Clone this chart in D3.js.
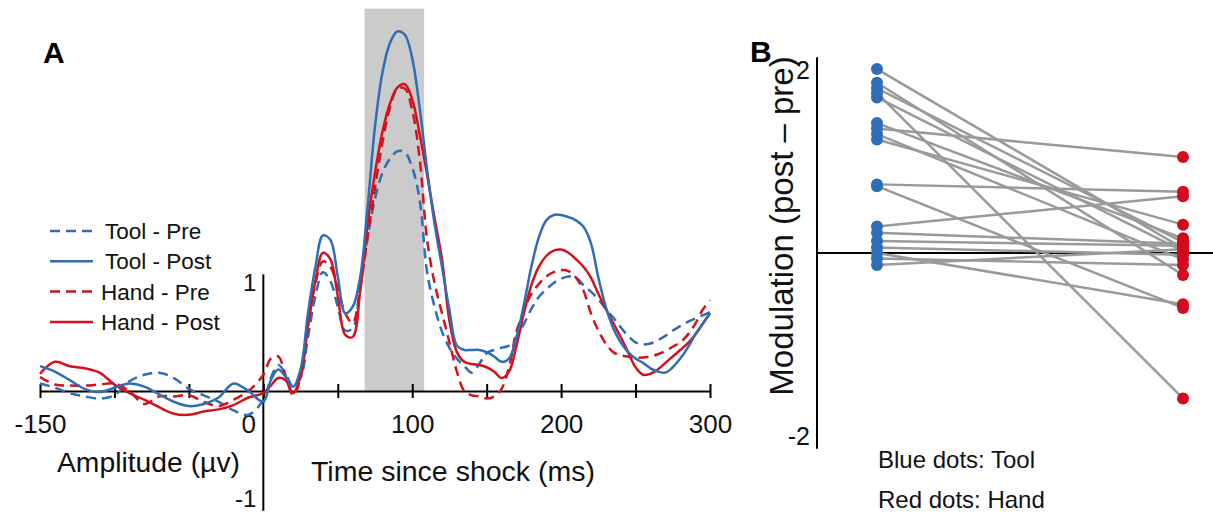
<!DOCTYPE html>
<html>
<head>
<meta charset="utf-8">
<script src="https://cdn.jsdelivr.net/npm/d3@7"></script>
<style>
  body { margin: 0; background: #fff; }
  svg { font-family: "Liberation Sans", Arial, sans-serif; }
</style>
</head>
<body>
<div id="chart"></div>
<script>
// ---- panel A data: ERP amplitude (µV) over time since shock (ms) ----
const times = [
  -150, -140, -130, -120, -110, -100, -90, -80, -70, -60, -50, -40, -30, -20, -10, 0,
  5, 10, 15, 20, 25, 30, 35, 40, 45, 50,
  55, 60, 65, 70, 75, 80, 85, 90, 95, 100,
  105, 110, 115, 120, 125, 130, 135, 140, 145, 150,
  155, 160, 165, 170, 175, 180, 185, 190, 195, 200,
  205, 210, 215, 220, 225, 230, 235, 240, 245, 250,
  255, 260, 265, 270, 275, 280, 285, 290, 295, 300
];

const toolPre = [
  0.07, 0.03, -0.02, -0.05, -0.07, -0.04, 0.09, 0.15, 0.17, 0.12, 0.02, -0.04, -0.10, -0.18, -0.22, -0.08,
  0.12, 0.24, 0.16, 0.04, 0.12, 0.50, 0.88, 1.10, 1.02, 0.78,
  0.56, 0.58, 0.95, 1.42, 1.78, 2.02, 2.15, 2.22, 2.21, 2.07,
  1.77, 1.10, 0.78, 0.55, 0.40, 0.30, 0.23, 0.17, 0.25, 0.35,
  0.38, 0.40, 0.42, 0.50, 0.62, 0.76, 0.87, 0.94, 1.00, 1.04,
  1.06, 1.05, 0.98, 0.92, 0.85, 0.76, 0.68, 0.59, 0.51, 0.45,
  0.43, 0.44, 0.47, 0.51, 0.56, 0.60, 0.64, 0.67, 0.70, 0.73
];

const toolPost = [
  0.23, 0.18, 0.10, 0.02, -0.01, 0.03, 0.07, 0.04, -0.03, -0.10, -0.14, -0.12, -0.06, 0.07, 0.00, -0.10,
  0.10, 0.20, 0.13, 0.04, 0.20, 0.72, 1.15, 1.44, 1.40, 1.06,
  0.72, 0.78, 1.05, 1.70, 2.45, 2.95, 3.22, 3.33, 3.30, 3.08,
  2.62, 2.05, 1.55, 1.15, 0.75, 0.42, 0.38, 0.38, 0.38, 0.36,
  0.32, 0.27, 0.30, 0.50, 0.80, 1.15, 1.42, 1.58, 1.63, 1.63,
  1.61, 1.58, 1.52, 1.37, 1.05, 0.78, 0.58, 0.45, 0.36, 0.30,
  0.26, 0.21, 0.18, 0.17, 0.22, 0.30, 0.40, 0.52, 0.62, 0.72
];

const handPre = [
  0.13, 0.06, 0.05, 0.05, 0.06, 0.07, 0.00, -0.12, -0.05, -0.05, -0.04, -0.10, -0.14, -0.08, 0.00, 0.15,
  0.30, 0.32, 0.14, -0.04, 0.12, 0.62, 1.00, 1.20, 1.15, 0.95,
  0.72, 0.63, 0.95, 1.42, 1.88, 2.30, 2.62, 2.80, 2.80, 2.60,
  2.15, 1.40, 1.00, 0.72, 0.45, 0.18, 0.00, -0.04, -0.05, -0.07,
  -0.05, 0.02, 0.22, 0.55, 0.74, 0.90, 0.99, 1.06, 1.10, 1.12,
  1.11, 1.05, 0.93, 0.72, 0.56, 0.44, 0.36, 0.33, 0.32, 0.31,
  0.31, 0.32, 0.34, 0.37, 0.41, 0.45, 0.52, 0.62, 0.75, 0.84
];

const handPost = [
  0.16, 0.27, 0.23, 0.21, 0.17, 0.06, -0.02, -0.08, -0.15, -0.21, -0.22, -0.19, -0.17, -0.13, -0.06, -0.02,
  0.05, 0.12, 0.10, -0.02, 0.15, 0.60, 1.02, 1.28, 1.22, 0.88,
  0.52, 0.50, 0.92, 1.55, 2.02, 2.40, 2.66, 2.81, 2.84, 2.70,
  2.38, 2.00, 1.60, 1.22, 0.65, 0.36, 0.27, 0.25, 0.24, 0.22,
  0.18, 0.12, 0.18, 0.42, 0.72, 0.98, 1.15, 1.25, 1.30, 1.31,
  1.28, 1.22, 1.15, 1.05, 0.90, 0.76, 0.63, 0.50, 0.36, 0.22,
  0.15, 0.16, 0.20, 0.26, 0.32, 0.38, 0.44, 0.52, 0.62, 0.72
];

const seriesNames = ["Tool - Pre", "Tool - Post", "Hand - Pre", "Hand - Post"];
const shadeWindow = [68, 108];   // ms
const shadeTop = 3.54;           // µV
const xTicksA = [-150, -100, -50, 0, 50, 100, 150, 200, 250, 300];
const xLabelsA = [-150, 0, 100, 200, 300];
const yTicksA = [-1, 1];

// ---- panel B data: modulation (post - pre) per subject ----
const groups = ["Tool", "Hand"];
const toolMod = [2.01, 1.86, 1.80, 1.75, 1.70, 1.42, 1.36, 1.30, 1.24, 0.75, 0.73, 0.29, 0.22, 0.13, 0.06, 0.00, -0.06, -0.13];
const handMod = [0.05, -0.24, 0.12, -1.59, 0.02, 0.16, 1.05, -0.07, 0.31, 0.67, -0.60, 0.62, 0.10, 0.08, -0.02, -0.56, -0.13, 0.04];
const yTicksB = [-2, 2];

const blue = "#2f6db4";
const red = "#d5111d";
const font = "'Liberation Sans', Arial, sans-serif";

const svg = d3.select("#chart").append("svg")
  .attr("width", 1213)
  .attr("height", 513);

// ================= panel A =================
const x = d3.scaleLinear().domain([-150, 300]).range([40, 710]);
const y = d3.scaleLinear().domain([-1, 1]).range([499, 283]);

// shaded window
svg.append("rect")
  .attr("x", x(shadeWindow[0]))
  .attr("y", y(shadeTop))
  .attr("width", x(shadeWindow[1]) - x(shadeWindow[0]))
  .attr("height", y(0) - y(shadeTop))
  .attr("fill", "#cbcbcb");

// x axis (ticks cross the line)
const gx = svg.append("g")
  .attr("transform", `translate(0,${y(0)})`)
  .attr("font-family", font)
  .call(d3.axisBottom(x)
    .tickValues(xTicksA)
    .tickSize(7)
    .tickSizeOuter(0)
    .tickFormat(d => xLabelsA.includes(d) ? String(d) : ""));
gx.select(".domain").attr("stroke", "#000").attr("stroke-width", 2);
gx.selectAll(".tick line").attr("y1", -7).attr("stroke-width", 2);
gx.selectAll(".tick text")
  .attr("y", 42).attr("dy", null)
  .attr("dx", d => d === 0 ? -15 : 0)
  .attr("font-size", 26).attr("fill", "#111");

// y axis
const gy = svg.append("g")
  .attr("transform", `translate(${x(0)},0)`)
  .attr("font-family", font)
  .call(d3.axisLeft(y).tickValues(yTicksA).tickSize(0).tickPadding(7).tickFormat(d => String(d)));
gy.select(".domain").remove();
gy.selectAll(".tick text").attr("font-size", 24).attr("fill", "#111");
svg.append("line")
  .attr("x1", x(0)).attr("x2", x(0))
  .attr("y1", y(1.08)).attr("y2", y(-1.11))
  .attr("stroke", "#000").attr("stroke-width", 2);

// ERP curves
const line = d3.line()
  .x((d, i) => x(times[i]))
  .y(d => y(d))
  .curve(d3.curveCatmullRom.alpha(0.5));

const curves = [
  { name: seriesNames[0], values: toolPre, color: blue, dash: "10,6" },
  { name: seriesNames[2], values: handPre, color: red, dash: "10,6" },
  { name: seriesNames[3], values: handPost, color: red, dash: null },
  { name: seriesNames[1], values: toolPost, color: blue, dash: null }
];

svg.selectAll(".erp")
  .data(curves)
  .enter()
  .append("path")
  .attr("class", "erp")
  .attr("d", d => line(d.values))
  .attr("fill", "none")
  .attr("stroke", d => d.color)
  .attr("stroke-width", 2.5)
  .attr("stroke-dasharray", d => d.dash);

// legend
const legendItems = [
  { name: seriesNames[0], color: blue, dash: "10,6" },
  { name: seriesNames[1], color: blue, dash: null },
  { name: seriesNames[2], color: red, dash: "10,6" },
  { name: seriesNames[3], color: red, dash: null }
];
const legend = svg.append("g").attr("transform", "translate(50,231)");
legendItems.forEach((d, i) => {
  const row = legend.append("g").attr("transform", `translate(0,${i * 30.3})`);
  row.append("line")
    .attr("x1", 0).attr("x2", 43)
    .attr("stroke", d.color).attr("stroke-width", 2.5)
    .attr("stroke-dasharray", d.dash);
  row.append("text")
    .attr("x", d.name.startsWith("Tool") ? 55 : 51)
    .attr("y", 8)
    .attr("font-size", 22.5)
    .attr("fill", "#111")
    .text(d.name);
});

// labels
svg.append("text").attr("x", 43).attr("y", 63)
  .attr("font-size", 30).attr("font-weight", "bold").text("A");
svg.append("text").attr("x", 57).attr("y", 472)
  .attr("font-size", 28.3).attr("fill", "#111").text("Amplitude (µv)");
svg.append("text").attr("x", 311).attr("y", 481)
  .attr("font-size", 28.5).attr("fill", "#111").text("Time since shock (ms)");

// ================= panel B =================
const xB = d3.scalePoint().domain(groups).range([877, 1183]);
const yB = d3.scaleLinear().domain([-2, 2]).range([436, 70]);

const gyB = svg.append("g")
  .attr("transform", "translate(817,0)")
  .attr("font-family", font)
  .call(d3.axisLeft(yB).tickValues(yTicksB).tickSize(0).tickPadding(7).tickFormat(d => String(d)));
gyB.select(".domain").remove();
gyB.selectAll(".tick text").attr("font-size", 25).attr("fill", "#111");
svg.append("line")
  .attr("x1", 817).attr("x2", 817)
  .attr("y1", yB(2.14)).attr("y2", yB(-2.14))
  .attr("stroke", "#000").attr("stroke-width", 2);

// zero line
svg.append("line")
  .attr("x1", 817).attr("x2", 1213)
  .attr("y1", yB(0)).attr("y2", yB(0))
  .attr("stroke", "#000").attr("stroke-width", 2);

const pairs = toolMod.map((t, i) => ({ tool: t, hand: handMod[i] }));

svg.selectAll(".pair")
  .data(pairs)
  .enter()
  .append("line")
  .attr("class", "pair")
  .attr("x1", xB("Tool")).attr("y1", d => yB(d.tool))
  .attr("x2", xB("Hand")).attr("y2", d => yB(d.hand))
  .attr("stroke", "#9a9a9a")
  .attr("stroke-width", 2.5);

svg.selectAll(".dotTool")
  .data(toolMod)
  .enter()
  .append("circle")
  .attr("class", "dotTool")
  .attr("cx", xB("Tool")).attr("cy", d => yB(d))
  .attr("r", 6).attr("fill", blue);

svg.selectAll(".dotHand")
  .data(handMod)
  .enter()
  .append("circle")
  .attr("class", "dotHand")
  .attr("cx", xB("Hand")).attr("cy", d => yB(d))
  .attr("r", 6).attr("fill", "#d20a1b");

svg.append("text").attr("x", 750).attr("y", 62)
  .attr("font-size", 30).attr("font-weight", "bold").text("B");
svg.append("text")
  .attr("transform", "translate(793,226) rotate(-90)")
  .attr("text-anchor", "middle")
  .attr("font-size", 33).attr("fill", "#111")
  .text("Modulation (post – pre)");
svg.append("text").attr("x", 878).attr("y", 468)
  .attr("font-size", 24).attr("fill", "#111").text("Blue dots: Tool");
svg.append("text").attr("x", 878).attr("y", 508)
  .attr("font-size", 24).attr("fill", "#111").text("Red dots: Hand");
</script>
</body>
</html>
